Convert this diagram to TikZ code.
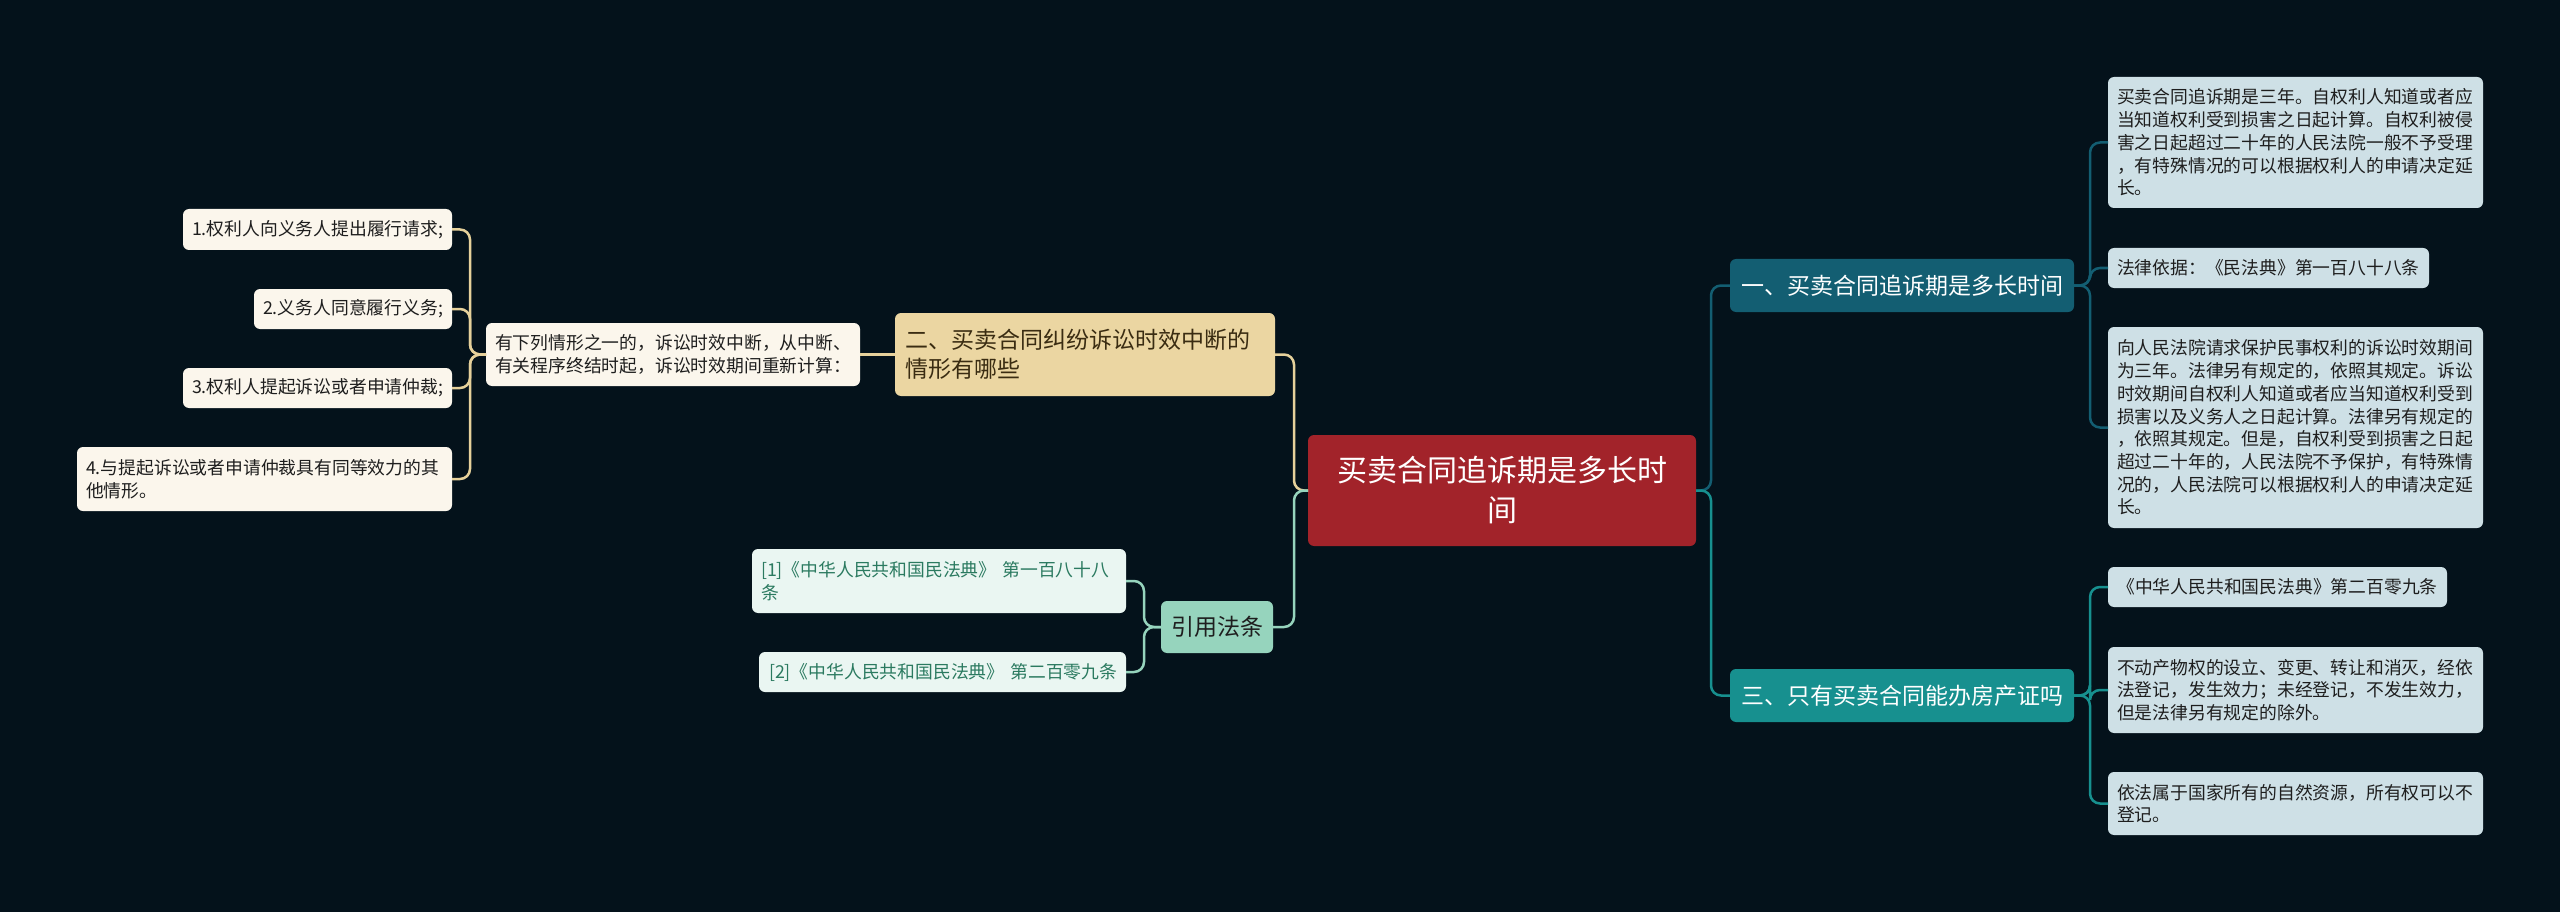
\documentclass[tikz,border=0pt]{standalone}
\usepackage{fontspec}
\setmainfont{Noto Sans CJK SC}
\definecolor{bg}{HTML}{04121B}
\definecolor{cred}{HTML}{A2232A}
\definecolor{tealA}{HTML}{135E72}
\definecolor{tealB}{HTML}{17908F}
\definecolor{rleaf}{HTML}{CEE0E6}
\definecolor{tan}{HTML}{EBD6A2}
\definecolor{tanline}{HTML}{E6D19B}
\definecolor{cream}{HTML}{FBF6EC}
\definecolor{mint}{HTML}{96D4BD}
\definecolor{mintleaf}{HTML}{EAF6F2}
\definecolor{citetext}{HTML}{2B7A60}
\definecolor{darktext}{HTML}{1E1E1E}
\definecolor{browntext}{HTML}{3A2C12}
\tikzset{
  box/.style={rounded corners=6pt, anchor=north west, inner ysep=0pt, outer sep=0pt},
  small/.style={font=\fontsize{17.8}{22.7}\selectfont},
  rl/.style={box, small, fill=rleaf, text=darktext, inner xsep=9pt, align=left},
  ll/.style={box, small, fill=cream, text=darktext, inner xsep=9pt},
  cl/.style={box, small, fill=mintleaf, text=citetext, align=left},
  conn/.style={line width=2.5pt, rounded corners=10pt},
}
\begin{document}
\begin{tikzpicture}[x=1pt,y=-1pt]
\fill[bg] (0,0) rectangle (2560,912);
\useasboundingbox (0,0) rectangle (2560,912);

% central
\node[box, fill=cred, text=white, minimum width=388pt, minimum height=111pt, align=center,
  font=\fontsize{30}{40}\selectfont] (c) at (1308,435) {买卖合同追诉期是多长时\\间};

% right main
\node[box, fill=tealA, text=white, minimum width=344pt, minimum height=53pt,
  font=\fontsize{23}{29}\selectfont] (n1) at (1730,259) {一、买卖合同追诉期是多长时间};
\node[box, fill=tealB, text=white, minimum width=344pt, minimum height=53pt,
  font=\fontsize{23}{29}\selectfont] (n3) at (1730,669) {三、只有买卖合同能办房产证吗};

% right leaves upper
\node[rl, text width=357pt, minimum height=131pt] (r1) at (2108,77)
 {买卖合同追诉期是三年。自权利人知道或者应\\当知道权利受到损害之日起计算。自权利被侵\\害之日起超过二十年的人民法院一般不予受理\\，有特殊情况的可以根据权利人的申请决定延\\长。};
\node[rl, text width=303pt, minimum height=40pt] (r2) at (2108,248)
 {法律依据：《民法典》第一百八十八条};
\node[rl, text width=357pt, minimum height=201pt] (r3) at (2108,327)
 {向人民法院请求保护民事权利的诉讼时效期间\\为三年。法律另有规定的，依照其规定。诉讼\\时效期间自权利人知道或者应当知道权利受到\\损害以及义务人之日起计算。法律另有规定的\\，依照其规定。但是，自权利受到损害之日起\\超过二十年的，人民法院不予保护，有特殊情\\况的，人民法院可以根据权利人的申请决定延\\长。};

% right leaves lower
\node[rl, text width=321pt, minimum height=40pt, align=center] (r4) at (2108,567)
 {《中华人民共和国民法典》第二百零九条};
\node[rl, text width=357pt, minimum height=86pt] (r5) at (2108,647)
 {不动产物权的设立、变更、转让和消灭，经依\\法登记，发生效力；未经登记，不发生效力，\\但是法律另有规定的除外。};
\node[rl, text width=357pt, minimum height=63pt] (r6) at (2108,772)
 {依法属于国家所有的自然资源，所有权可以不\\登记。};

% left main
\node[box, fill=tan, text=browntext, inner xsep=10pt, text width=360pt, minimum height=83pt, align=left,
  font=\fontsize{23}{29}\selectfont] (n2) at (895,313) {二、买卖合同纠纷诉讼时效中断的\\情形有哪些};
\node[ll, text width=356pt, minimum height=63pt, align=left] (n2a) at (486,323)
 {有下列情形之一的，诉讼时效中断，从中断、\\有关程序终结时起，诉讼时效期间重新计算：};

\node[ll, text width=251pt, minimum height=41pt, align=right] (l1) at (183,209) {1.权利人向义务人提出履行请求;};
\node[ll, text width=180pt, minimum height=40pt, align=right] (l2) at (254,289) {2.义务人同意履行义务;};
\node[ll, text width=251pt, minimum height=40pt, align=right] (l3) at (183,368) {3.权利人提起诉讼或者申请仲裁;};
\node[ll, text width=357pt, minimum height=64pt, align=left] (l4) at (77,447) {4.与提起诉讼或者申请仲裁具有同等效力的其\\他情形。};

% citations
\node[box, fill=mint, text=darktext, minimum width=112pt, minimum height=52pt,
  font=\fontsize{23}{29}\selectfont] (ct) at (1161,601) {引用法条};
\node[cl, inner xsep=9pt, text width=356pt, minimum height=64pt] (c1) at (752,549) {[1]《中华人民共和国民法典》~第一百八十八\\条};
\node[cl, inner xsep=10pt, text width=347pt, minimum height=40pt] (c2) at (759,652) {[2]《中华人民共和国民法典》~第二百零九条};

% connectors right
\draw[conn, tealA] (c.east) -- ++(15,0) |- (n1.west);
\draw[conn, tealB] (c.east) -- ++(15,0) |- (n3.west);
\foreach \t in {r1,r2,r3} \draw[conn, tealA] (n1.east) -- ++(16,0) |- (\t.west);
\foreach \t in {r4,r5,r6} \draw[conn, tealB] (n3.east) -- ++(16,0) |- (\t.west);

% connectors left
\draw[conn, tanline] (c.west) -- ++(-14,0) |- (n2.east);
\draw[conn, mint] (c.west) -- ++(-14,0) |- (ct.east);
\draw[conn, tanline] (n2.west) -- (n2a.east);
\foreach \t in {l1,l2,l3,l4} \draw[conn, tanline] (n2a.west) -- ++(-16,0) |- (\t.east);
\foreach \t in {c1,c2} \draw[conn, mint] (ct.west) -- ++(-17,0) |- (\t.east);
\end{tikzpicture}
\end{document}
